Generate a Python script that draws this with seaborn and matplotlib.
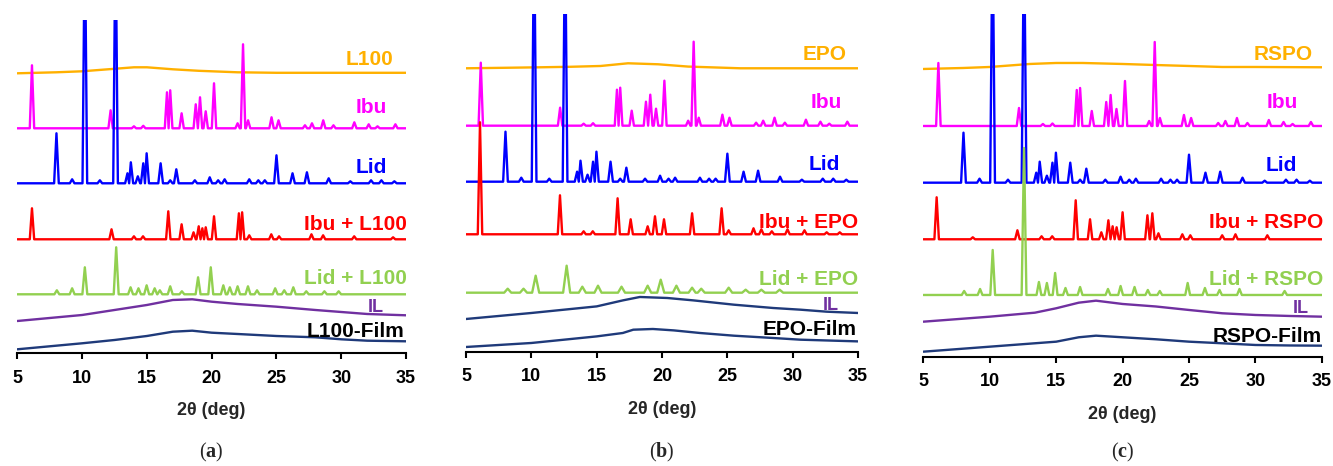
import seaborn as sns
import matplotlib.pyplot as plt
import numpy as np

# ---- data (2theta in deg, intensity in a.u.) ----
# crystalline patterns: peak positions / peak heights
IBU_POS = [6.13, 12.2, 14.0, 14.72, 16.55, 16.8, 17.68, 18.77, 19.1, 19.54, 20.18, 22.0,
           22.42, 22.81, 24.62, 25.16, 27.2, 27.74, 28.61, 29.4, 31.01, 32.12, 32.8, 34.18]
IBU_H = [63, 18, 2, 2.5, 36, 38, 15, 24, 31, 17, 45, 5,
         84, 8, 11, 8, 3, 5, 8, 3, 6, 4, 2, 4]

LID_POS = [8.02, 9.23, 10.21, 11.37, 12.58, 13.5, 13.76, 14.3, 14.72, 14.98, 16.06, 16.8,
           17.27, 18.7, 19.85, 20.5, 21.0, 22.9, 23.6, 24.1, 25.0, 26.24, 27.35, 29.03,
           30.7, 32.3, 33.1, 34.1]
LID_H = [50, 4, 260, 3, 260, 10, 21, 7, 20, 30, 20, 3,
         14, 3, 6, 3, 4, 4, 3, 3, 28, 10, 11, 5,
         2, 3, 3, 2]

IBU_L100_POS = [6.13, 12.27, 14.0, 14.7, 16.65, 17.68, 18.6, 19.0, 19.28, 19.54, 20.18,
                22.1, 22.35, 22.9, 24.6, 25.2, 27.7, 28.6, 31.0, 34.0]
IBU_L100_H = [31, 10, 3, 3, 28, 15, 7, 13, 11, 12, 23, 26, 27, 4, 5, 3, 5, 4, 3, 2]

LID_L100_POS = [8.05, 9.23, 10.21, 12.63, 13.74, 14.35, 14.98, 15.6, 16.0, 16.8, 17.7, 18.95,
                19.93, 20.9, 21.4, 22.0, 22.8, 23.5, 24.9, 25.6, 26.3, 27.3, 28.7, 29.8]
LID_L100_H = [4, 6, 27, 47, 7, 6, 9, 6, 4, 8, 3, 17, 27, 9, 7, 8, 8, 4, 6, 4, 7, 3, 3, 3]

IBU_EPO_POS = [6.07, 12.19, 14.0, 14.7, 16.6, 17.6, 18.9, 19.46, 20.15, 22.3, 24.56, 25.1,
               27.0, 27.6, 28.4, 29.6, 30.9, 32.6, 33.6]
IBU_EPO_H = [112, 39, 3, 3, 36, 15, 8, 18, 15, 21, 26, 4, 6, 5, 3, 5, 4, 2, 2]

LID_EPO_POS = [8.19, 9.4, 10.33, 12.7, 13.9, 15.1, 16.9, 18.9, 19.9, 21.1, 22.3, 23.0,
               25.1, 26.4, 27.6, 29.0]
LID_EPO_H = [4, 4, 17, 27, 6, 7, 6, 7, 13, 7, 5, 4, 5, 3, 3, 3]

IBU_RSPO_POS = [6.0, 8.72, 12.08, 13.9, 14.7, 16.47, 17.55, 18.4, 18.93, 19.25, 19.55, 20.0,
                21.87, 22.24, 22.7, 24.5, 25.1, 27.5, 28.5, 30.9]
IBU_RSPO_H = [42, 2, 9, 3, 3, 39, 20, 7, 19, 13, 12, 27, 24, 26, 6, 5, 4, 4, 5, 4]

LID_RSPO_POS = [8.07, 9.27, 10.22, 12.58, 13.7, 14.3, 14.92, 15.7, 16.8, 18.9, 19.85, 20.9,
                21.9, 22.8, 24.9, 26.2, 27.3, 28.8, 32.2]
LID_RSPO_H = [4, 6, 45, 147, 13, 12, 22, 7, 8, 6, 9, 8, 5, 4, 12, 7, 5, 6, 4]

# amorphous patterns: sampled points
L100_TT = [5, 8, 10, 12, 14, 15, 17, 19, 22, 25, 30, 35]
L100_I = [0, 1, 2, 4, 6, 6, 4, 2.5, 1, 0.5, 0.5, 0.5]
EPO_TT = [5, 8, 10.7, 13, 15.3, 17.4, 19.7, 22, 26, 30, 35]
EPO_I = [0, 0.5, 1, 1.5, 2.3, 5, 4, 1.7, 0, 0, 0]
RSPO_TT = [5, 8, 10, 13, 15, 17, 20, 22.4, 25, 27.5, 30, 35]
RSPO_I = [0, 1, 2, 5, 6, 6, 5, 4, 3, 2, 2, 1.7]

AM_TT_A = [5, 10, 12.5, 15, 17, 18.5, 20, 22, 25, 28, 30, 32, 35]
IL_A = [0, 6, 11, 16, 21, 21.7, 19.3, 17, 14.3, 11, 9, 7, 5.7]
FILM_A = [0, 6, 9.3, 13.3, 17.6, 18.6, 16.6, 15.3, 13.3, 12, 10, 8.6, 8]

IL_TT_B = [5, 10, 15, 17, 18.3, 20.4, 22.4, 25.5, 28.5, 30.6, 32.6, 35]
IL_B = [0, 6, 12.6, 18.6, 22, 21, 18.6, 14.3, 11, 9.3, 7.3, 6]
FILM_TT_B = [5, 10, 15, 17, 17.8, 19.3, 20.9, 22.9, 25.5, 28.5, 30.6, 35]
FILM_B = [0, 4, 10.6, 14, 17.3, 18, 16.6, 14, 11.3, 9, 7.3, 5.6]

AM_TT_C = [5, 10, 13.4, 15, 16.7, 18, 20, 22.5, 25, 27.5, 30, 32.6, 35]
IL_C = [0, 5, 9, 13.4, 19, 21, 17.7, 15.2, 11.7, 8.4, 6.7, 5.7, 5]
FILM_C = [0, 5, 8.4, 10, 14.4, 16, 14.4, 12.4, 10, 8.4, 6.7, 6.2, 6]

XTICKS = [5, 10, 15, 20, 25, 30, 35]

# ---- colours ----
ORANGE = "#FFB000"
MAGENTA = "#FF00FF"
BLUE = "#0000FF"
RED = "#FF0000"
GREEN = "#92D050"
PURPLE = "#7030A0"
NAVY = "#1F3A7A"


def peak_trace(pos, hgt, w=0.17):
    # stick-like peaks on a flat baseline; neighbours that overlap meet in a valley
    xs, ys = [5.0], [0.0]
    for p, h in zip(pos, hgt):
        left = p - w
        if left < xs[-1]:
            xs[-1] = (xs[-1] + left) / 2
        else:
            xs.append(left)
            ys.append(0.0)
        xs += [p, p + w]
        ys += [h, 0.0]
    xs.append(35.0)
    ys.append(0.0)
    return xs, ys


sns.set_theme(style="white")
plt.rcParams["font.family"] = ["Liberation Sans", "DejaVu Sans"]
plt.rcParams["mathtext.fontset"] = "custom"
plt.rcParams["mathtext.rm"] = "Liberation Serif"
plt.rcParams["mathtext.bf"] = "Liberation Serif:bold"

fig = plt.figure(figsize=(13.33, 4.66), dpi=100)

# panel layouts: left, bottom, width, height (fig fraction) and y span
panels = [
    dict(rect=[0.0130, 0.2425, 0.2916, 0.7146], ytop=333.0, letter="a", polymer="L100",
         poly=(L100_TT, L100_I), ibu_mix=(IBU_L100_POS, IBU_L100_H, 0.17),
         lid_mix=(LID_L100_POS, LID_L100_H, 0.19),
         il=(AM_TT_A, IL_A, PURPLE), film=(AM_TT_A, FILM_A),
         offs=[279.7, 224.7, 169.7, 113.7, 58.7, 32.0, 3.7],
         labels=[(34.0, 288), (33.55, 240), (33.5, 180), (35.1, 123), (35.1, 69), (33.25, 41), (34.9, 16)]),
    dict(rect=[0.3496, 0.2453, 0.2941, 0.7247], ytop=337.7, letter="b", polymer="EPO",
         poly=(EPO_TT, EPO_I), ibu_mix=(IBU_EPO_POS, IBU_EPO_H, 0.17),
         lid_mix=(LID_EPO_POS, LID_EPO_H, 0.27),
         il=(IL_TT_B, IL_B, NAVY), film=(FILM_TT_B, FILM_B),
         offs=[283.4, 226.0, 170.0, 117.4, 59.0, 32.7, 4.7],
         labels=[(34.15, 291.7), (33.8, 243.7), (33.6, 181.7), (35.0, 123.7), (35.0, 66.7), (33.55, 41.7), (34.9, 16.7)]),
    dict(rect=[0.6927, 0.2346, 0.2989, 0.7354], ytop=342.7, letter="c", polymer="RSPO",
         poly=(RSPO_TT, RSPO_I), ibu_mix=(IBU_RSPO_POS, IBU_RSPO_H, 0.17),
         lid_mix=(LID_RSPO_POS, LID_RSPO_H, 0.18),
         il=(AM_TT_C, IL_C, PURPLE), film=(AM_TT_C, FILM_C),
         offs=[287.7, 230.7, 174.0, 117.4, 61.7, 35.0, 5.0],
         labels=[(34.35, 296.7), (33.2, 248.7), (33.15, 185.7), (35.1, 128.7), (35.1, 71.7), (34.0, 43.7), (35.0, 14.7)]),
]

for p in panels:
    ax = fig.add_axes(p["rect"])
    o = p["offs"]
    traces = []
    traces.append((p["poly"][0], p["poly"][1], ORANGE))
    traces.append(peak_trace(IBU_POS, IBU_H) + (MAGENTA,))
    traces.append(peak_trace(LID_POS, LID_H, 0.18) + (BLUE,))
    traces.append(peak_trace(*p["ibu_mix"]) + (RED,))
    traces.append(peak_trace(*p["lid_mix"]) + (GREEN,))
    traces.append((p["il"][0], p["il"][1], p["il"][2]))
    traces.append((p["film"][0], p["film"][1], NAVY))

    for (xs, ys, c), off in zip(traces, o):
        sns.lineplot(x=np.asarray(xs, float), y=np.asarray(ys, float) + off, ax=ax,
                     color=c, lw=1.7, sort=False, estimator=None)

    pol = p["polymer"]
    names = [pol, "Ibu", "Lid", "Ibu + " + pol, "Lid + " + pol, "IL", pol + "-Film"]
    colors = [ORANGE, MAGENTA, BLUE, RED, GREEN, PURPLE, "black"]
    for name, c, (lx, ly) in zip(names, colors, p["labels"]):
        ax.text(lx, ly, name, color=c, fontsize=13 if name == "IL" else 15,
                fontweight="bold", ha="right", va="baseline")

    ax.set_xlim(5, 35)
    ax.set_ylim(0, p["ytop"])
    ax.set_xticks(XTICKS)
    ax.set_yticks([])
    for s in ["left", "top", "right"]:
        ax.spines[s].set_visible(False)
    ax.spines["bottom"].set_color("black")
    ax.spines["bottom"].set_linewidth(1.5)
    ax.tick_params(axis="x", direction="out", length=4, width=1.5, colors="black",
                   labelsize=13, pad=8, bottom=True)
    for t in ax.get_xticklabels():
        t.set_fontweight("bold")
    ax.set_xlabel("2θ (deg)", fontsize=13, fontweight="bold", labelpad=11)
    ax.set_ylabel("")
    ax.patch.set_alpha(0)

    cx = p["rect"][0] + p["rect"][2] / 2
    fig.text(cx, 0.030, r"($\mathbf{%s}$)" % p["letter"], ha="center", va="center",
             fontsize=14.5, family="Liberation Serif")

fig.savefig("out.png", dpi=100)
